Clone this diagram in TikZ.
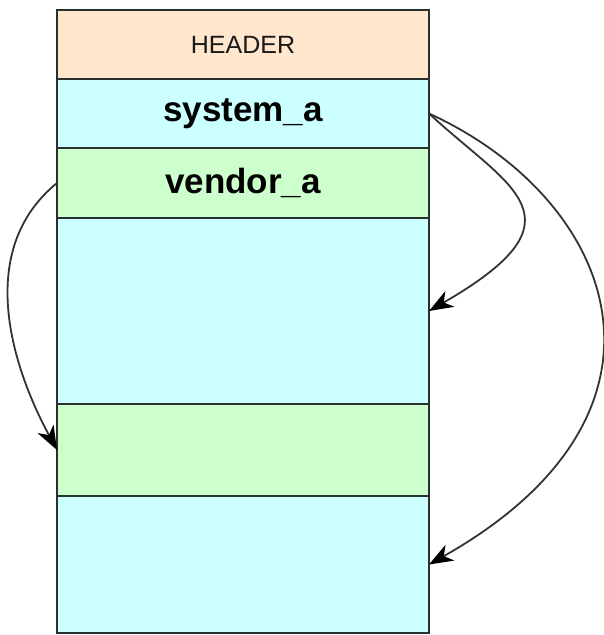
\documentclass[tikz,border=0pt]{standalone}
\usepackage{fontspec}
\setmainfont{Liberation Sans}
\usepackage{xcolor}
\usetikzlibrary{positioning, arrows.meta}
\definecolor{hdrfill}{RGB}{255,230,204}
\definecolor{cyanfill}{RGB}{204,255,255}
\definecolor{greenfill}{RGB}{204,255,204}
\definecolor{edge}{RGB}{40,48,48}
\tikzset{
  row/.style={draw=edge, line width=1.8pt, minimum width=372pt, outer sep=0pt, inner sep=0pt},
  lbl/.style={font=\bfseries\fontsize{35}{42}\selectfont, text=black},
  link/.style={line width=1.8pt, black!80, -{Stealth[length=24pt,width=18pt,inset=7pt,black]}}
}

\begin{document}
\begin{tikzpicture}[x=1pt, y=1pt]
  \useasboundingbox (0,0) rectangle (603,-635);
  % the stacked rows
  \node[row, fill=hdrfill, minimum height=69pt, anchor=north west, font=\fontsize{25}{30}\selectfont, text=black!90] (hdr) at (57,-10) {HEADER};
  \node[row, fill=cyanfill, minimum height=69pt, lbl, below=0pt of hdr] (sysa) {system\_a};
  \node[row, fill=greenfill, minimum height=70pt, lbl, below=0pt of sysa] (vena) {vendor\_a};
  \node[row, fill=cyanfill, minimum height=186pt, below=0pt of vena] (blka) {};
  \node[row, fill=greenfill, minimum height=92pt, below=0pt of blka] (grn) {};
  \node[row, fill=cyanfill, minimum height=137pt, below=0pt of grn] (blkb) {};
  % links
  \draw[link] (sysa.east) .. controls +(81,-75) and +(161,93) .. (blka.east);
  \draw[link] (sysa.east) .. controls +(186,-85) and +(271,153) .. (blkb.east);
  \draw[link] (vena.west) .. controls +(-81,-66) and +(-47,87) .. (grn.west);
\end{tikzpicture}
\end{document}
